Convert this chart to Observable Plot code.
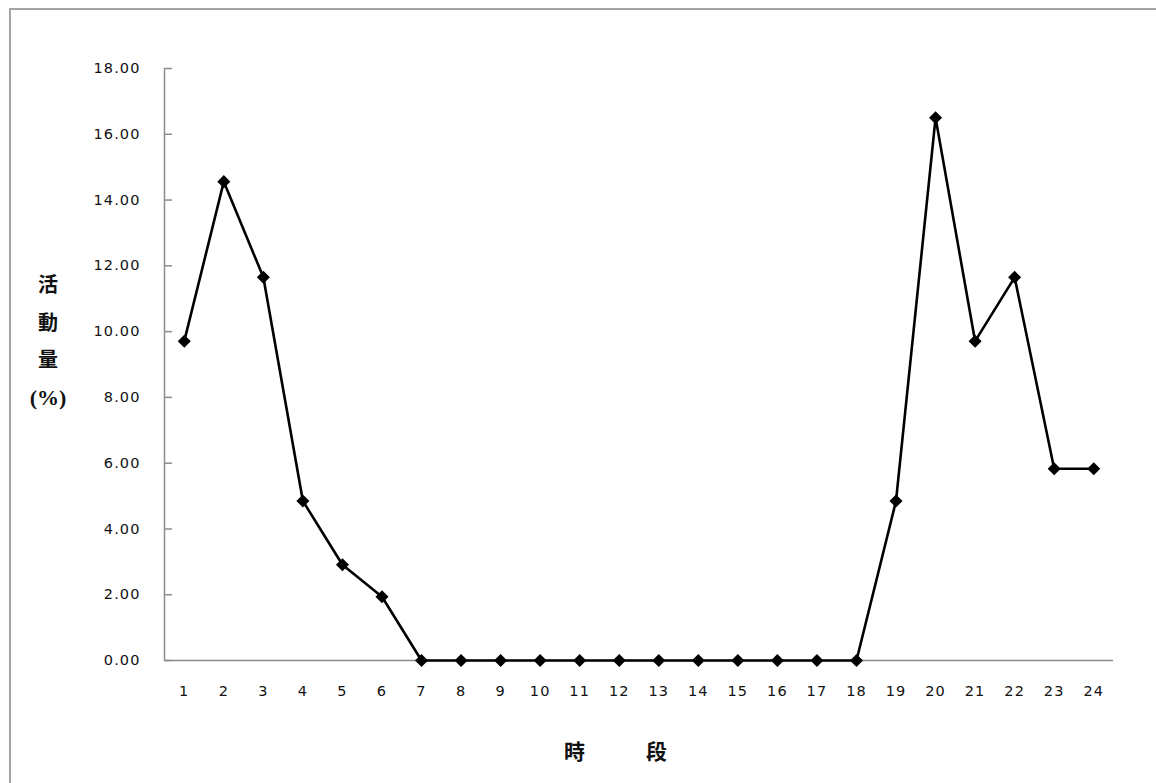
<!DOCTYPE html>
<html>
<head>
<meta charset="utf-8">
<script src="https://cdn.jsdelivr.net/npm/d3@7"></script>
<script src="https://cdn.jsdelivr.net/npm/@observablehq/plot@0.6"></script>
<style>
  html, body { margin: 0; padding: 0; background: #fff; }
  #wrap { position: relative; width: 1156px; height: 783px; overflow: hidden; }
  #frame { position: absolute; left: 9px; top: 8px; width: 1200px; height: 900px;
           border-top: 2px solid #a3a3a3; border-left: 2px solid #a3a3a3; box-sizing: border-box; }
  #chart { position: absolute; left: 0; top: 0; }
  .ytitle { position: absolute; left: 27px; top: 265px; width: 42px; text-align: center;
            font-family: "Noto Sans CJK TC", sans-serif; font-weight: 700; font-size: 20px;
            line-height: 37.5px; color: #111; }
  .ytitle .pct { font-family: "Liberation Serif", serif; font-size: 22px; }
  .xtitle { position: absolute; top: 735px; font-family: "Noto Sans CJK TC", sans-serif;
            font-weight: 700; font-size: 21px; color: #111; }
</style>
</head>
<body>
<div id="wrap">
  <div id="frame"></div>
  <div id="chart"></div>
  <div class="ytitle">活<br>動<br>量<br><span class="pct">(%)</span></div>
  <div class="xtitle" style="left:564px">時</div>
  <div class="xtitle" style="left:646px">段</div>
</div>
<script>
const hours = [1,2,3,4,5,6,7,8,9,10,11,12,13,14,15,16,17,18,19,20,21,22,23,24];
const activity = [9.71,14.56,11.65,4.85,2.91,1.94,0,0,0,0,0,0,0,0,0,0,0,0,4.85,16.50,9.71,11.65,5.83,5.83];
const yTicks = [0,2,4,6,8,10,12,14,16,18];

const data = hours.map((h, i) => ({hour: h, value: activity[i]}));

const chart = Plot.plot({
  width: 1156,
  height: 783,
  marginLeft: 164,
  marginRight: 43,
  marginTop: 68,
  marginBottom: 123,
  style: {fontFamily: "DejaVu Sans", fontSize: "14.5px", color: "#111", background: "transparent", letterSpacing: "1.1px"},
  x: {type: "linear", domain: [0.5, 24.5]},
  y: {domain: [0, 18]},
  marks: [
    Plot.axisX({ticks: hours, tickSize: 0, tickPadding: 25, label: null, tickFormat: d => String(d)}),
    Plot.axisY({ticks: yTicks, tickSize: 0, tickPadding: 24, label: null, tickFormat: d => d.toFixed(2)}),
    Plot.axisY({ticks: yTicks, tickSize: 8, dx: 8, text: null, label: null, stroke: "#8c8c8c", strokeWidth: 1.5}),
    Plot.ruleX([0.5], {stroke: "#8c8c8c", strokeWidth: 1.5}),
    Plot.ruleY([0], {stroke: "#8c8c8c", strokeWidth: 1.5}),
    Plot.line(data, {x: "hour", y: "value", stroke: "#000", strokeWidth: 2.6}),
    Plot.dot(data, {x: "hour", y: "value", symbol: "square", rotate: 45, r: 5.2, fill: "#000", stroke: null})
  ]
});
document.getElementById("chart").appendChild(chart);
</script>
</body>
</html>
